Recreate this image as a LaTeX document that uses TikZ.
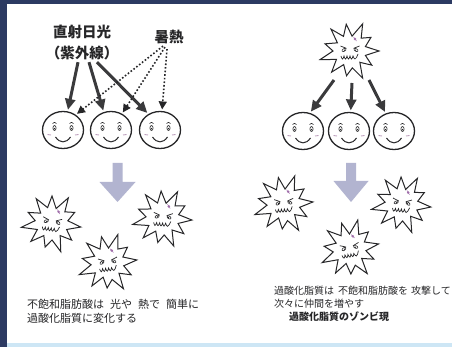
\documentclass[tikz,border=0pt]{standalone}
\usepackage{fontspec}
\setmainfont{Noto Sans CJK JP}
\usetikzlibrary{shapes.geometric,arrows.meta,calc}

\definecolor{ink}{RGB}{38,38,40}
\definecolor{navy}{RGB}{44,58,98}
\definecolor{edgeblue}{RGB}{205,230,245}
\definecolor{shaftgray}{RGB}{178,180,208}
\definecolor{tipgray}{RGB}{58,58,60}
\definecolor{blush}{RGB}{190,160,190}
\definecolor{browspot}{RGB}{160,110,170}

\tikzset{
  face/.style={ellipse, draw=ink, line width=1.3pt, minimum width=41pt,
    minimum height=37pt, inner sep=0pt},
  hub/.style={circle, minimum size=56pt, inner sep=0pt},
  txt/.style={text=ink, inner sep=0pt},
  heading/.style={txt, font=\bfseries\fontsize{14.5}{21}\selectfont},
  note/.style={txt, font=\fontsize{11}{14}\selectfont, align=left},
  noteR/.style={txt, font=\fontsize{10}{13}\selectfont, align=left},
  solidarrow/.style={draw=tipgray, line width=3pt, shorten >=1.5pt,
    -{Triangle[length=11pt,width=10pt]}},
  dotarrow/.style={draw=ink, line width=1.6pt, dotted, shorten >=1.5pt,
    -{Triangle[length=8pt,width=8pt]}},
  downarrow/.style={fill=shaftgray},
  smiley/.pic={
    \foreach \s in {-1,1}{
      \draw[ink, line width=0.6pt] (\s*8.5,-2) ellipse [x radius=1.6, y radius=2.5];
      \fill[ink] (\s*8.5,-1.4) circle (0.8);
      \draw[ink, line width=0.6pt] (\s*8.5-2,-6.5) .. controls (\s*8.5,-8) .. (\s*8.5+2,-6.5);
      \draw[blush, line width=0.9pt] (\s*12,5) -- (\s*15.5,4.5);
    }
    \draw[ink, line width=1pt] (-7.5,7) .. controls (-3,13.5) and (3,13.5) .. (7.5,7);
  },
  monster/.pic={
    \draw[ink, line width=1pt, line join=miter, fill=white]
      (0:29) -- (16:16) -- (33:26) -- (49:15) -- (65:30) -- (82:17)
      -- (98:25) -- (115:15) -- (131:28) -- (148:16) -- (164:31)
      -- (180:17) -- (196:26) -- (213:15) -- (229:29) -- (246:16)
      -- (262:27) -- (278:15) -- (295:30) -- (311:17) -- (327:25)
      -- (344:16) -- cycle;
    \foreach \s in {-1,1}{
      \draw[ink, line width=0.6pt, rotate around={\s*-30:(\s*6,-1)}]
        (\s*6,-1) ellipse [x radius=2.2, y radius=1.3];
      \fill[ink] (\s*5.5,-0.8) circle (0.7);
      \draw[ink, line width=0.7pt] (\s*9.5,-5) -- (\s*3.5,-2.6);
    }
    \draw[ink, line width=0.7pt] (-9,5) sin (-7.5,8) cos (-6,5) sin (-4.5,8)
      cos (-3,5) sin (-1.5,8) cos (0,5) sin (1.5,8) cos (3,5) sin (5,8) cos (8,3);
    \fill[browspot] (5,-12) circle (1.4);
    \draw[browspot, line width=0.5pt] (3.5,-14) -- (6.5,-10);
  }
}

\begin{document}
\begin{tikzpicture}[x=1pt, y=-1pt]
  \useasboundingbox (0,0) rectangle (452,347);
  % page background and edge strips
  \fill[white] (0,0) rectangle (452,347);
  \fill[edgeblue] (0,343) rectangle (452,347);
  \fill[navy] (0,0) rectangle (452,4);
  \fill[navy] (0,0) rectangle (7,347);

  % ---------- left panel: sunlight and heat ----------
  \node[heading, align=center] (sun) at (82,42.5) {直射日光\\（紫外線）};
  \node[heading] (heat) at (169,37) {暑熱};

  \node[face] (f1) at (63,130) {};
  \node[face] (f2) at (111,130) {};
  \node[face] (f3) at (160,130) {};
  \foreach \f in {f1,f2,f3} \pic at (\f) {smiley};

  \draw[solidarrow] ($(sun.south)+(-4,2)$) -- (f1.76);
  \draw[solidarrow] ($(sun.south)+(7,2)$) -- (f2.112);
  \draw[solidarrow] ($(sun.south)+(15,2)$) -- (f3.126);

  \draw[dotarrow] ($(heat.south)+(-6,2)$) -- (f1.50);
  \draw[dotarrow] ($(heat.south)+(-4,3)$) -- (f2.56);
  \draw[dotarrow] ($(heat.south)+(-2,5)$) -- (f3.84);

  \fill[downarrow] (112.5,163) -- (122.5,163) -- (122.5,182) -- (135.5,182)
    -- (117.5,202) -- (99.5,182) -- (112.5,182) -- cycle;

  \pic[rotate=-8] at (52,223) {monster};
  \pic[rotate=6] at (108,263) {monster};
  \pic[rotate=-4] at (163,218) {monster};

  \node[note, anchor=north west] (noteL) at (27,299)
    {不飽和脂肪酸は\hspace{6pt}光や\hspace{6pt}熱で\hspace{6pt}簡単に\\過酸化脂質に変化する};

  % ---------- right panel: chain reaction ----------
  \node[hub] (m0) at (350,51) {};
  \pic at (m0) {monster};

  \node[face] (g1) at (303,131) {};
  \node[face] (g2) at (349,131) {};
  \node[face] (g3) at (394,131) {};
  \foreach \g in {g1,g2,g3} \pic at (\g) {smiley};

  \draw[solidarrow] ($(m0.center)+(-16,29)$) -- (g1.69);
  \draw[solidarrow] ($(m0.center)+(2,32)$) -- (g2.85);
  \draw[solidarrow] ($(m0.center)+(19,29)$) -- (g3.115);

  \fill[downarrow] (346,163) -- (356,163) -- (356,181) -- (368.5,181)
    -- (351,202) -- (333.5,181) -- (346,181) -- cycle;

  \pic[rotate=4] at (284,204) {monster};
  \pic[rotate=-6] at (402,204) {monster};
  \pic[rotate=10] at (350,249) {monster};

  \node[noteR, anchor=north west] (noteR) at (274,286)
    {過酸化脂質は\hspace{4pt}不飽和脂肪酸を\hspace{3pt}攻撃して\\次々に仲間を増やす};
  \node[noteR, font=\bfseries\fontsize{10}{13}\selectfont, anchor=north west]
    (zombie) at (289,312) {過酸化脂質のゾンビ現};
\end{tikzpicture}
\end{document}
